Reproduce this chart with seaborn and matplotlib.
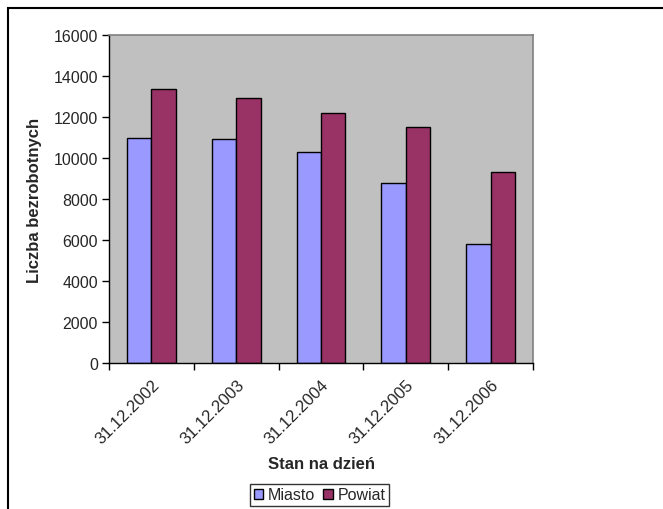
import matplotlib
matplotlib.use("Agg")
import matplotlib.pyplot as plt
import seaborn as sns
import pandas as pd
from matplotlib.patches import Rectangle

dates = ["31.12.2002", "31.12.2003", "31.12.2004", "31.12.2005", "31.12.2006"]
miasto = [11000, 10930, 10310, 8800, 5800]
powiat = [13350, 12930, 12200, 11520, 9330]
series = ["Miasto", "Powiat"]
yticks = [0, 2000, 4000, 6000, 8000, 10000, 12000, 14000, 16000]

df = pd.DataFrame({
    "Stan na dzień": dates * 2,
    "Liczba": miasto + powiat,
    "Seria": [series[0]] * len(dates) + [series[1]] * len(dates),
})

sns.set_theme(style="white")
plt.rcParams["font.family"] = ["Liberation Sans", "DejaVu Sans"]

W, H = 663, 510
fig = plt.figure(figsize=(W / 100, H / 100), dpi=100)
x0, x1, y0, y1 = 109, 533, 36, 364
ax = fig.add_axes([x0 / W, 1 - y1 / H, (x1 - x0) / W, (y1 - y0) / H])

sns.barplot(data=df, x="Stan na dzień", y="Liczba", hue="Seria",
            palette={"Miasto": "#9999FF", "Powiat": "#993366"},
            width=0.575, gap=0, edgecolor="black", linewidth=1.0,
            saturation=1, ax=ax, legend=True, errorbar=None)

ax.set_facecolor("#C0C0C0")
ax.set_xlim(-0.5, len(dates) - 0.5)
ax.set_ylim(0, 16000)
ax.set_yticks(yticks)
ax.set_yticklabels([str(v) for v in yticks], fontsize=11.5)
ax.set_xticks([i - 0.5 for i in range(len(dates) + 1)])
ax.set_xticklabels([])
ax.set_xticks(range(len(dates)), minor=True)
ax.set_xticklabels(dates, minor=True, rotation=45, ha="right",
                   rotation_mode="anchor", fontsize=12)
ax.tick_params(axis="x", which="minor", length=0, pad=10)
ax.tick_params(axis="x", which="major", length=5, width=1, color="black", direction="out", bottom=True)
ax.tick_params(axis="y", length=5, width=1, color="black", direction="out", left=True, pad=3)
for s in ["left", "bottom"]:
    ax.spines[s].set_color("black")
    ax.spines[s].set_linewidth(1)
for s in ["top", "right"]:
    ax.spines[s].set_color("#808080")
    ax.spines[s].set_linewidth(1.2)
ax.grid(False)

ax.set_xlabel("Stan na dzień", fontsize=12, fontweight="bold", labelpad=7)
ax.set_ylabel("Liczba bezrobotnych", fontsize=12, fontweight="bold", labelpad=8)

handles, labels = ax.get_legend_handles_labels()
ax.legend_.remove()
leg = fig.legend(handles, labels, loc="center", bbox_to_anchor=((247 + 392) / 2 / W, 1 - 496 / H),
                 ncol=2, frameon=True, fancybox=False, fontsize=11.5,
                 handlelength=0.6, handleheight=0.6, handletextpad=0.3,
                 columnspacing=0.5, borderpad=0.25, borderaxespad=0)
leg.get_frame().set_edgecolor("black")
leg.get_frame().set_linewidth(1)

fig.patches.append(Rectangle((8 / W, -0.1), 1.2, 1 - 9 / H + 0.1, transform=fig.transFigure,
                             fill=False, edgecolor="black", linewidth=1.5))

fig.savefig("out.png", dpi=100)
